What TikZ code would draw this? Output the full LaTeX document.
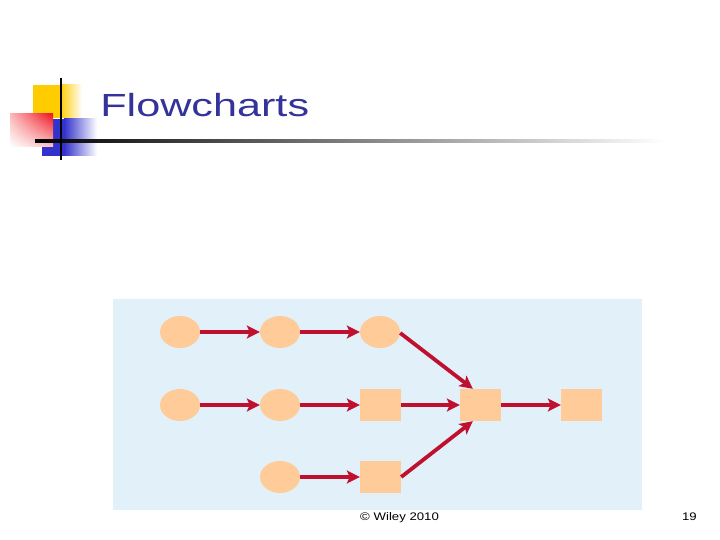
\documentclass[tikz,border=0pt]{standalone}
\usepackage{fontspec}
\setmainfont{Liberation Sans}
\usetikzlibrary{arrows.meta,shapes.geometric,shadings}
\definecolor{titleblue}{RGB}{51,51,153}
\definecolor{panel}{RGB}{226,241,249}
\definecolor{peach}{RGB}{255,204,153}
\definecolor{arrowred}{RGB}{192,16,48}
\definecolor{decoyellow}{RGB}{255,204,0}
\definecolor{decoblue}{RGB}{51,51,204}
\definecolor{decored}{RGB}{240,20,30}
\tikzset{
  oval/.style={ellipse,fill=peach,draw=none,minimum width=40pt,minimum height=32pt,inner sep=0pt},
  box/.style={rectangle,fill=peach,draw=none,minimum width=41pt,minimum height=32pt,inner sep=0pt},
  flow/.style={draw=arrowred,line width=3.8pt,-{Stealth[length=13pt,width=13pt,inset=3pt]}},
}
\begin{document}
\begin{tikzpicture}[x=1pt,y=-1pt]
\useasboundingbox (0,0) rectangle (720,540);
\fill[white] (0,0) rectangle (720,540);
% decoration
\fill[decoyellow] (33,85) rectangle (60.5,118);
\shade[left color=decoyellow,right color=white] (60,85) rectangle (82,118);
\fill[decoblue] (42,119) rectangle (64.5,156);
\shade[left color=decoblue,right color=white] (64,119) rectangle (97,156);
\shade[upper right=decored,upper left=decored!30,lower left=white,lower right=decored!25] (10,114) rectangle (53,147);
\shade[left color=black,right color=white] (35,139.5) rectangle (665,142.5);
\draw[black,line width=2pt] (61,78) -- (61,160);
% title
\node[anchor=base west,inner sep=0pt,text=titleblue,font=\fontsize{32}{36}\selectfont,xscale=1.35] (title) at (100,117) {Flowcharts};
% panel
\fill[panel] (113,299) rectangle (642,510);
% nodes
\node[oval] (a1) at (180,332) {};
\node[oval] (a2) at (280,332) {};
\node[oval] (a3) at (380,332) {};
\node[oval] (b1) at (180,405) {};
\node[oval] (b2) at (280,405) {};
\node[box] (b3) at (380.5,405) {};
\node[box] (m) at (480.5,405) {};
\node[box] (r) at (581.5,405) {};
\node[oval] (c2) at (280,477) {};
\node[box] (c3) at (380.5,477) {};
\coordinate (mtop) at ([xshift=13pt]m.north west);
\coordinate (mbot) at ([xshift=13pt]m.south west);
% connectors
\draw[flow] (a1) -- (a2);
\draw[flow] (a2) -- (a3);
\draw[flow] (b1) -- (b2);
\draw[flow] (b2) -- (b3);
\draw[flow] (b3) -- (m);
\draw[flow] (m) -- (r);
\draw[flow] (c2) -- (c3);
\draw[flow] ([shift={(0,1)}]a3.east) -- (mtop);
\draw[flow] (c3.east) -- (mbot);
% footer
\node[anchor=base west,inner sep=0pt,font=\fontsize{11}{13}\selectfont,xscale=1.2] (foot) at (360,520) {© Wiley 2010};
\node[anchor=base east,inner sep=0pt,font=\fontsize{11}{13}\selectfont,xscale=1.2] (page) at (697,520) {19};
\end{tikzpicture}
\end{document}
